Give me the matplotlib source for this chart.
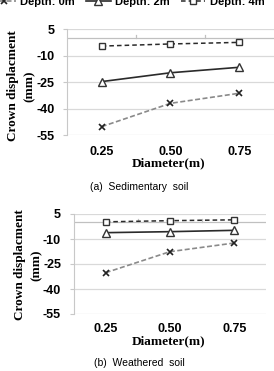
import matplotlib
matplotlib.use("Agg")
import matplotlib.pyplot as plt

diameters = ["0.25", "0.50", "0.75"]
series_names = ["Depth: 0m", "Depth: 2m", "Depth: 4m"]
sed_0m = [-50.1, -36.9, -31.2]
sed_2m = [-24.6, -19.6, -16.5]
sed_4m = [-4.5, -3.3, -2.4]
wea_0m = [-30.2, -17.6, -12.4]
wea_2m = [-6.2, -5.6, -4.8]
wea_4m = [0.3, 1.0, 1.5]
yticks = [5, -10, -25, -40, -55]

W, H = 274, 371
fig = plt.figure(figsize=(W / 100, H / 100), dpi=100)

styles = [
    dict(color="#8a8a8a", ls=(0, (3, 1.5)), lw=1.2, marker="x", ms=5, mec="#222222", mew=1.2),
    dict(color="#2a2a2a", ls="-", lw=1.2, marker="^", ms=6, mfc="white", mec="#333333", mew=1.0),
    dict(color="#2a2a2a", ls=(0, (3, 2)), lw=1.1, marker="s", ms=4.5, mfc="white", mec="#333333", mew=1.0),
]

def px_axes(left, right, top, bottom):
    return fig.add_axes([left / W, 1 - bottom / H, (right - left) / W, (bottom - top) / H])

def draw(ax, data, ylab_x, mm_x, ylab_y, xl_y, cap_y, cap_text, xpad):
    x = list(range(len(diameters)))
    lines = []
    for vals, st, name in zip(data, styles, series_names):
        l, = ax.plot(x, vals, label=name, zorder=3, **st)
        lines.append(l)
    ax.set_xlim(-0.5, len(diameters) - 0.5)
    ax.set_ylim(-55, 5)
    ax.set_yticks(yticks)
    ax.set_yticklabels([str(v) for v in yticks], fontfamily="Liberation Sans",
                       fontweight="bold", fontsize=9)
    ax.set_xticks(x)
    ax.set_xticklabels(diameters, fontfamily="Liberation Sans", fontweight="bold", fontsize=9)
    ax.grid(axis="y", color="#d9d9d9", lw=0.9, zorder=0)
    for s in ["top", "right", "bottom"]:
        ax.spines[s].set_visible(False)
    ax.spines["left"].set_color("#c8c8c8")
    ax.tick_params(axis="y", length=3, color="#c8c8c8", pad=6)
    ax.tick_params(axis="x", length=0, pad=xpad)
    ax.axhline(0, color="#c0c0c0", lw=0.9, zorder=1)
    for b in [0.5, 1.5]:
        ax.plot([b, b], [0, 2], color="#c0c0c0", lw=0.9, zorder=1)
    fig.text(ylab_x / W, 1 - ylab_y / H, "Crown displacment", rotation=90,
             ha="center", va="center", fontfamily="Liberation Serif",
             fontweight="bold", fontsize=9.5)
    fig.text(mm_x / W, 1 - ylab_y / H, "(mm)", rotation=90,
             ha="center", va="center", fontfamily="Liberation Serif",
             fontweight="bold", fontsize=9.5)
    fig.text(169 / W, 1 - xl_y / H, "Diameter(m)", ha="center", va="center",
             fontfamily="Liberation Serif", fontweight="bold", fontsize=9.5)
    fig.text(139 / W, 1 - cap_y / H, cap_text, ha="center", va="center",
             fontfamily="Liberation Sans", fontsize=7.5)
    return lines

ax1 = px_axes(67.3, 273.7, 29.3, 135.3)
lines = draw(ax1, [sed_0m, sed_2m, sed_4m], 13, 29.5, 86, 163, 187,
             "(a)  Sedimentary  soil", 7.5)
ax2 = px_axes(73.5, 266.5, 214, 314)
draw(ax2, [wea_0m, wea_2m, wea_4m], 20, 36.5, 265, 341, 363,
     "(b)  Weathered  soil", 6.5)

fig.legend(handles=lines, labels=series_names, loc="center",
           bbox_to_anchor=(128 / W, 1 - 2 / H), ncol=3, frameon=False,
           prop=dict(family="Liberation Sans", weight="bold", size=8),
           handlelength=2.2, columnspacing=1.0, handletextpad=0.4)

fig.savefig("out.png", dpi=100)
